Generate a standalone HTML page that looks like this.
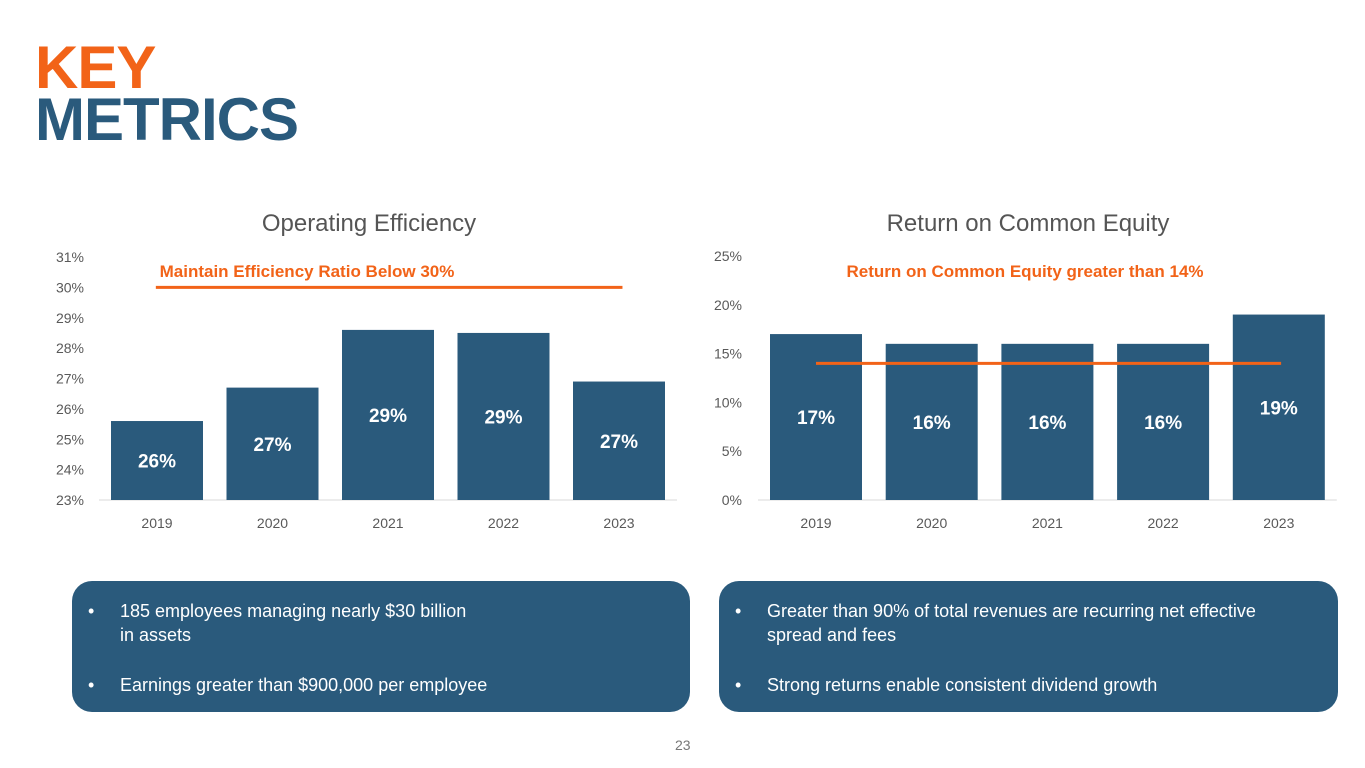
<!DOCTYPE html>
<html><head><meta charset="utf-8"><style>
body{margin:0;width:1365px;height:768px;background:#fff;font-family:"Liberation Sans",sans-serif;position:relative;overflow:hidden}
.t{position:absolute;left:35px;font-weight:bold;font-size:60px;letter-spacing:-1px;line-height:1}
.box{position:absolute;top:581px;height:131px;background:#2a5a7c;border-radius:20px;color:#fff;font-size:18px;line-height:24px}
.box ul{margin:0;padding:0;list-style:none;position:absolute;top:18px;left:16px}
.box li{position:relative;padding-left:32px;margin-bottom:26px}
.box li:before{content:"•";position:absolute;left:0}
</style></head><body>
<div class="t" style="top:38px;color:#f26318">KEY</div>
<div class="t" style="top:90px;color:#2a5a7c">METRICS</div>
<svg id="s" width="1365" height="768" style="position:absolute;left:0;top:0"></svg>
<div class="box" style="left:72px;width:618px"><ul>
<li>185 employees managing nearly $30 billion<br>in assets</li>
<li>Earnings greater than $900,000 per employee</li></ul></div>
<div class="box" style="left:719px;width:619px"><ul>
<li>Greater than 90% of total revenues are recurring net effective<br>spread and fees</li>
<li>Strong returns enable consistent dividend growth</li></ul></div>
<div style="position:absolute;left:675px;top:737px;font-size:14px;color:#777">23</div>
<script>
const years=["2019","2020","2021","2022","2023"];
const effValues=[25.6,26.7,28.6,28.5,26.9];
const effLabels=["26%","27%","29%","29%","27%"];
const effTicks=[23,24,25,26,27,28,29,30,31];
const effTarget=30;
const roeValues=[17,16,16,16,19];
const roeLabels=["17%","16%","16%","16%","19%"];
const roeTicks=[0,5,10,15,20,25];
const roeTarget=14;
const NS="http://www.w3.org/2000/svg",s=document.getElementById('s');
function mk(t,a,txt){const e=document.createElementNS(NS,t);for(const k in a)e.setAttribute(k,a[k]);if(txt!=null)e.textContent=txt;s.appendChild(e);return e;}
function chart(o){
 const y=v=>o.y0-(v-o.min)/(o.max-o.min)*(o.y0-o.y1);
 const x=i=>o.x0+o.step*i;
 let e=mk('text',{x:o.tx,y:231,'font-size':24,fill:'#555','text-anchor':'middle'},o.title);
 
 e=mk('line',{x1:o.x0-58,x2:x(4)+58,y1:o.y0,y2:o.y0,stroke:'#d9d9d9'});
 
 o.ticks.forEach(t=>{e=mk('text',{x:o.ax,y:y(t)+5,'font-size':14,fill:'#595959','text-anchor':'end'},t+'%');
  });
 o.vals.forEach((v,i)=>{
  e=mk('rect',{x:x(i)-46,y:y(v),width:92,height:o.y0-y(v),fill:'#2a5a7c'});
  
  e=mk('text',{x:x(i),y:(y(v)+o.y0)/2+7,'font-size':19,'font-weight':'bold',fill:'#fff','text-anchor':'middle'},o.labels[i]);
  
  e=mk('text',{x:x(i),y:528,'font-size':14,fill:'#595959','text-anchor':'middle'},years[i]);
  
 });
 e=mk('line',{x1:x(o.lx[0]),x2:x(o.lx[1]),y1:y(o.target),y2:y(o.target),stroke:'#f26318','stroke-width':3});
 
 e=mk('text',{x:o.ltx,y:277,'font-size':17,'font-weight':'bold',fill:'#f26318','text-anchor':'middle'},o.ltxt);
 
}
chart({id:'efficiency',title:'Operating Efficiency',tx:369,x0:157,step:115.5,y0:500,y1:257,min:23,max:31,ax:84,ticks:effTicks,vals:effValues,labels:effLabels,target:effTarget,lx:[-0.01,4.03],ltx:307,ltxt:'Maintain Efficiency Ratio Below 30%'});
chart({id:'roe',title:'Return on Common Equity',tx:1028,x0:816,step:115.7,y0:500,y1:256,min:0,max:25,ax:742,ticks:roeTicks,vals:roeValues,labels:roeLabels,target:roeTarget,lx:[0,4.02],ltx:1025,ltxt:'Return on Common Equity greater than 14%'});
</script>
</body></html>
